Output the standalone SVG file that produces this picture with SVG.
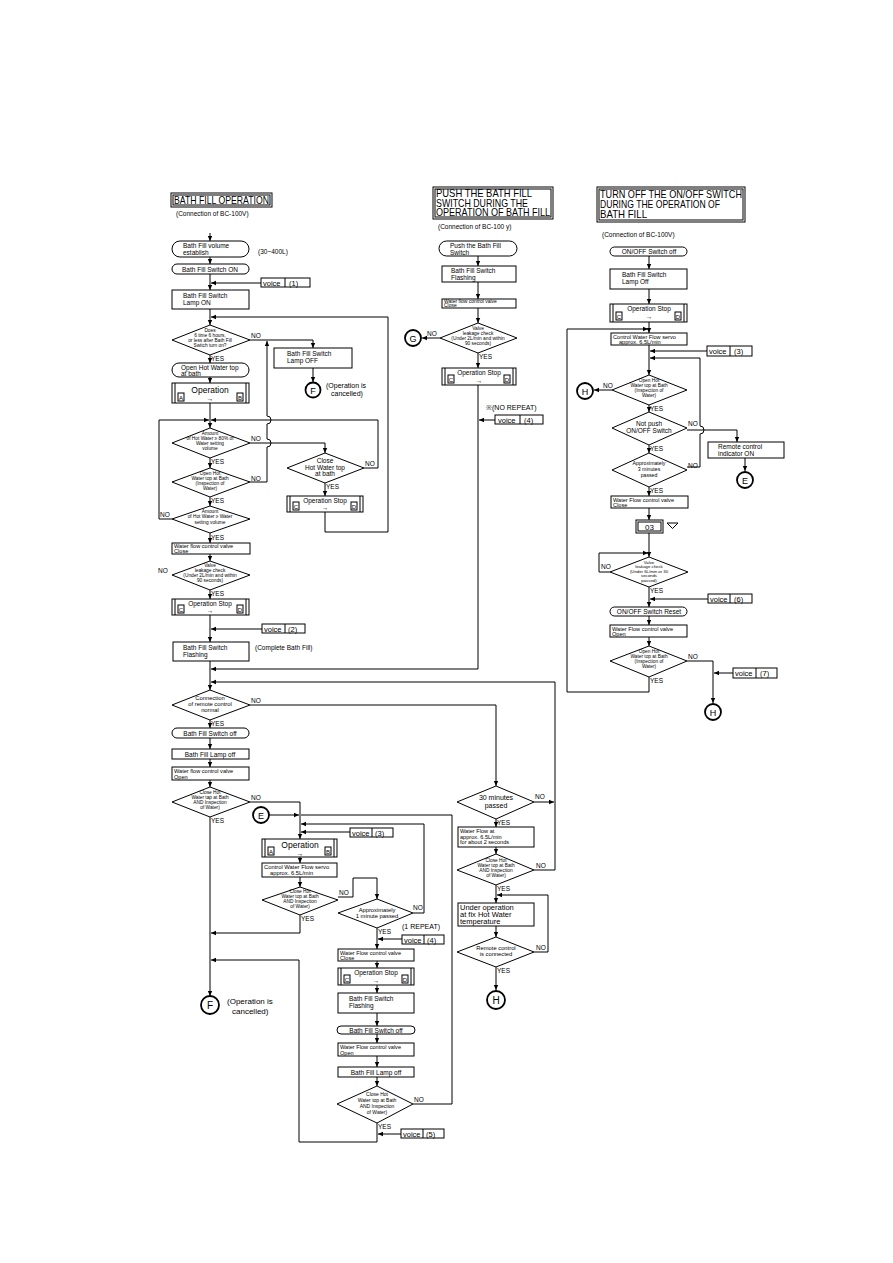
<svg xmlns="http://www.w3.org/2000/svg" width="893" height="1263" viewBox="0 0 893 1263">
<style>
.l{stroke:#000;stroke-width:1;fill:none}
.b{fill:#fff;stroke:#000;stroke-width:1}
.c{fill:#fff;stroke:#000;stroke-width:1.8}
text{font-family:"Liberation Sans",Arial,sans-serif;font-size:6.5px;fill:#000}
.m{text-anchor:middle}
.d{font-size:4.8px}
.v{font-size:7.5px}
.t{font-size:10.5px}
.lb{font-size:6.5px}
.w{font-size:5.6px}
</style>
<defs>
<marker id="a" markerWidth="6" markerHeight="6" refX="5" refY="3" orient="auto" markerUnits="userSpaceOnUse"><path d="M0,0.8 L5,3 L0,5.2z" fill="#000"/></marker>
</defs>
<rect width="893" height="1263" fill="#fff"/>

<g id="connectors" class="l" marker-end="url(#a)">
<path d="M210,233V241"/>
<path d="M210,257V264"/>
<path d="M210,274V290"/>
<path d="M261,283H211"/>
<path d="M210,309V325"/>
<path d="M325,512V532H388V317H211"/>
<path d="M250,340H313V348"/>
<path d="M313,368V382"/>
<path d="M210,355V363"/>
<path d="M210,377V383"/>
<path d="M210,403V428"/>
<path d="M172,519H159V420H209"/>
<path d="M364,468H378V420H211"/>
<path d="M250,443H325V453"/>
<path d="M250,482H267V447a4,4 0 0 0 0,-8V424a4,4 0 0 0 0,-8V341"/>
<path d="M210,458V468"/>
<path d="M210,497V506"/>
<path d="M325,483V496"/>
<path d="M210,533V543"/>
<path d="M210,554V561"/>
<path d="M210,590V599"/>
<path d="M210,615V642"/>
<path d="M262,629H211"/>
<path d="M210,661V690"/>
<path d="M478,385V669H211"/>
<path d="M555,870V682H211"/>
<path d="M210,720V728"/>
<path d="M210,738V749"/>
<path d="M210,759V767"/>
<path d="M210,780V787"/>
<path d="M210,817V996"/>
<path d="M250,802H300V839"/>
<path d="M269,815H299"/>
<path d="M413,1104H452V815H301" marker-end="none"/>
<path d="M413,913H424V824H301"/>
<path d="M350,832H301"/>
<path d="M300,857V863"/>
<path d="M300,877V887"/>
<path d="M338,897H353V878H377V899"/>
<path d="M300,915V933H211"/>
<path d="M377,928V949"/>
<path d="M402,939H378"/>
<path d="M377,961V968"/>
<path d="M377,985V993"/>
<path d="M377,1013V1026"/>
<path d="M377,1034V1043"/>
<path d="M377,1056V1067"/>
<path d="M377,1077V1086"/>
<path d="M377,1123V1142H299V960H211"/>
<path d="M401,1134H378"/>
<path d="M478,256V266"/>
<path d="M478,282V299"/>
<path d="M478,308V323"/>
<path d="M440,338H422"/>
<path d="M478,353V368"/>
<path d="M495,420H479"/>
<path d="M250,705H496V786"/>
<path d="M534,802H554"/>
<path d="M534,870H555" marker-end="none"/>
<path d="M496,819V827"/>
<path d="M496,847V854"/>
<path d="M496,885V903"/>
<path d="M534,952H548V895H497"/>
<path d="M496,926V937"/>
<path d="M496,967V990"/>
<path d="M649,256V269"/>
<path d="M649,289V304"/>
<path d="M649,322V333"/>
<path d="M649,677V692H567V329H648"/>
<path d="M707,351H650"/>
<path d="M649,345V375"/>
<path d="M687,467H700V434a4,4 0 0 0 0,-8V358H650"/>
<path d="M612,390H594"/>
<path d="M649,405V412"/>
<path d="M649,445V453"/>
<path d="M687,430H737V442"/>
<path d="M745,458V471"/>
<path d="M649,487V496"/>
<path d="M649,508V520"/>
<path d="M649,533V557"/>
<path d="M610,572H599V553H648"/>
<path d="M649,587V607"/>
<path d="M708,599H650"/>
<path d="M649,616V625"/>
<path d="M649,637V646"/>
<path d="M687,661H713V703"/>
<path d="M733,673H714"/>
</g>

<g id="title-left">
<rect class="b" x="171" y="193" width="101" height="14"/>
<rect class="l" x="173" y="195" width="97" height="10"/>
<text x="174" y="204" class="t" textLength="95" lengthAdjust="spacingAndGlyphs">BATH FILL OPERATION</text>
<text x="176" y="216">(Connection of BC-100V)</text>
</g>
<g id="l-volume">
<rect class="b" x="172" y="241" width="77" height="16" rx="8"/>
<text x="183" y="248">Bath Fill volume</text>
<text x="183" y="255">establish</text>
<text x="258" y="254">(30~400L)</text>
</g>
<g id="l-switch-on">
<rect class="b" x="172" y="264" width="77" height="10" rx="5"/>
<text x="210" y="271.5" class="m">Bath Fill Switch ON</text>
</g>
<g id="l-voice1">
<rect class="b" x="261" y="278" width="49" height="9"/>
<line class="l" x1="285" y1="278" x2="285" y2="287"/>
<text x="263" y="285.5" class="v">voice</text>
<text x="289" y="285.5" class="v">(1)</text>
</g>
<g id="l-lamp-on">
<rect class="b" x="172" y="290" width="77" height="19"/>
<text x="183" y="298">Bath Fill Switch</text>
<text x="183" y="305">Lamp ON</text>
</g>
<g id="l-d-6hours">
<polygon class="b" points="172,340 210,325 250,340 210,355"/>
<text x="210" y="332" class="m d">Does</text>
<text x="210" y="337" class="m d">6 time 6 hours,</text>
<text x="210" y="342" class="m d">or less after Bath Fill</text>
<text x="210" y="347" class="m d">Switch turn on?</text>
<text x="251" y="338" class="lb">NO</text>
<text x="211" y="361" class="lb">YES</text>
</g>
<g id="l-lamp-off">
<rect class="b" x="274" y="348" width="78" height="20"/>
<text x="287" y="356">Bath Fill Switch</text>
<text x="287" y="363">Lamp OFF</text>
</g>
<g id="l-F1">
<circle class="c" cx="313" cy="390" r="7.5"/>
<text x="313" y="393.5" class="m" style="font-size:9px">F</text>
<text x="326" y="388" style="font-size:7px">(Operation is</text>
<text x="331" y="396" style="font-size:7px">cancelled)</text>
</g>
<g id="l-open-hot">
<rect class="b" x="172" y="363" width="77" height="14" rx="7"/>
<text x="181" y="369.5">Open Hot Water top</text>
<text x="181" y="375.5">at bath</text>
</g>
<g id="l-op-ab">
<rect class="b" x="172" y="383" width="77" height="20"/>
<line class="l" x1="175" y1="383" x2="175" y2="403"/>
<line class="l" x1="246" y1="383" x2="246" y2="403"/>
<rect class="b" x="178" y="393" width="6" height="8"/>
<text x="181" y="399.5" class="m" style="font-size:6px">A</text>
<rect class="b" x="237" y="393" width="6" height="8"/>
<text x="240" y="399.5" class="m" style="font-size:6px">B</text>
<text x="210" y="393" class="m" style="font-size:8.5px">Operation</text>
<text x="210" y="401" class="m" style="font-size:7px">→</text>
</g>
<g id="l-d-amount80">
<polygon class="b" points="172,443 210,428 250,443 210,458"/>
<text x="210" y="435" class="m d">Amount</text>
<text x="210" y="440" class="m d">of Hot Water ≥ 80% of</text>
<text x="210" y="445" class="m d">Water setting</text>
<text x="210" y="450" class="m d">volume</text>
<text x="251" y="441" class="lb">NO</text>
<text x="211" y="464" class="lb">YES</text>
</g>
<g id="l-d-close">
<polygon class="b" points="287,468 325,453 364,468 325,483"/>
<text x="325" y="463" class="m">Close</text>
<text x="325" y="469.5" class="m">Hot Water top</text>
<text x="325" y="476" class="m">at bath</text>
<text x="365" y="466" class="lb">NO</text>
<text x="326" y="489" class="lb">YES</text>
</g>
<g id="l-stop-close">
<rect class="b" x="287" y="496" width="76" height="16"/>
<line class="l" x1="290" y1="496" x2="290" y2="512"/>
<line class="l" x1="360" y1="496" x2="360" y2="512"/>
<rect class="b" x="293" y="502" width="6" height="8"/>
<text x="296" y="508.5" class="m" style="font-size:6px">C</text>
<rect class="b" x="351" y="502" width="6" height="8"/>
<text x="354" y="508.5" class="m" style="font-size:6px">D</text>
<text x="325" y="503" class="m">Operation Stop</text>
<text x="325" y="510" class="m">→</text>
</g>
<g id="l-d-openhot">
<polygon class="b" points="172,482 210,468 250,482 210,497"/>
<text x="210" y="475" class="m d">Open Hot</text>
<text x="210" y="480" class="m d">Water top at Bath</text>
<text x="210" y="485" class="m d">(Inspection of</text>
<text x="210" y="490" class="m d">Water)</text>
<text x="251" y="481" class="lb">NO</text>
<text x="211" y="503" class="lb">YES</text>
</g>
<g id="l-d-amount">
<polygon class="b" points="172,519 210,506 250,519 210,533"/>
<text x="210" y="513" class="m d">Amount</text>
<text x="210" y="518" class="m d">of Hot Water ≥ Water</text>
<text x="210" y="523.5" class="m d">setting volume</text>
<text x="160" y="517" class="lb">NO</text>
<text x="211" y="540" class="lb">YES</text>
</g>
<g id="l-valve-close">
<rect class="b" x="172" y="543" width="78" height="11"/>
<text x="174" y="548" class="w">Water flow control valve</text>
<text x="174" y="553" class="w">Close</text>
</g>
<g id="l-d-leak">
<polygon class="b" points="172,575 210,561 250,575 210,590"/>
<text x="210" y="567" class="m d">Valve</text>
<text x="210" y="572" class="m d">leakage check</text>
<text x="210" y="577" class="m d">(Under 2L/min and within</text>
<text x="210" y="582" class="m d">90 seconds)</text>
<text x="158" y="573" class="lb">NO</text>
<text x="211" y="596" class="lb">YES</text>
</g>
<g id="l-stop">
<rect class="b" x="172" y="599" width="77" height="16"/>
<line class="l" x1="175" y1="599" x2="175" y2="615"/>
<line class="l" x1="246" y1="599" x2="246" y2="615"/>
<rect class="b" x="178" y="605" width="6" height="8"/>
<text x="181" y="611.5" class="m" style="font-size:6px">C</text>
<rect class="b" x="237" y="605" width="6" height="8"/>
<text x="240" y="611.5" class="m" style="font-size:6px">D</text>
<text x="210" y="606" class="m">Operation Stop</text>
<text x="210" y="613" class="m">→</text>
</g>
<g id="l-voice2">
<rect class="b" x="262" y="624" width="43" height="9"/>
<line class="l" x1="285" y1="624" x2="285" y2="633"/>
<text x="264" y="631.5" class="v">voice</text>
<text x="288" y="631.5" class="v">(2)</text>
</g>
<g id="l-flashing">
<rect class="b" x="173" y="642" width="76" height="19"/>
<text x="183" y="649.5">Bath Fill Switch</text>
<text x="183" y="656.5">Flashing</text>
<text x="255" y="650">(Complete Bath Fill)</text>
</g>
<g id="l-d-connection">
<polygon class="b" points="172,705 210,690 250,705 210,720"/>
<text x="210" y="700" class="m" style="font-size:5.8px">Connection</text>
<text x="210" y="706" class="m" style="font-size:5.8px">of remote control</text>
<text x="210" y="712" class="m" style="font-size:5.8px">normal</text>
<text x="251" y="703" class="lb">NO</text>
<text x="211" y="726" class="lb">YES</text>
</g>
<g id="l-switch-off">
<rect class="b" x="172" y="728" width="77" height="10" rx="5"/>
<text x="210" y="735.5" class="m">Bath Fill Switch off</text>
</g>
<g id="l-lamp-off2">
<rect class="b" x="172" y="749" width="77" height="10"/>
<text x="210" y="756.5" class="m">Bath Fill Lamp off</text>
</g>
<g id="l-valve-open">
<rect class="b" x="172" y="767" width="77" height="13"/>
<text x="174" y="773" class="w">Water flow control valve</text>
<text x="174" y="778.5" class="w">Open</text>
</g>
<g id="l-d-closehot">
<polygon class="b" points="172,802 210,787 250,802 210,817"/>
<text x="210" y="794" class="m d">Close Hot</text>
<text x="210" y="799" class="m d">Water tap at Bath</text>
<text x="210" y="804" class="m d">AND Inspection</text>
<text x="210" y="809" class="m d">of Water)</text>
<text x="251" y="800" class="lb">NO</text>
<text x="211" y="823" class="lb">YES</text>
</g>
<g id="l-E">
<circle class="c" cx="261" cy="815" r="8"/>
<text x="261" y="818.5" class="m" style="font-size:9px">E</text>
</g>
<g id="l-voice3">
<rect class="b" x="350" y="828" width="43" height="9"/>
<line class="l" x1="372" y1="828" x2="372" y2="837"/>
<text x="352" y="835.5" class="v">voice</text>
<text x="375" y="835.5" class="v">(3)</text>
</g>
<g id="l-op-ab2">
<rect class="b" x="262" y="839" width="75" height="18"/>
<line class="l" x1="265" y1="839" x2="265" y2="857"/>
<line class="l" x1="334" y1="839" x2="334" y2="857"/>
<rect class="b" x="268" y="847" width="6" height="8"/>
<text x="271" y="853.5" class="m" style="font-size:6px">A</text>
<rect class="b" x="325" y="847" width="6" height="8"/>
<text x="328" y="853.5" class="m" style="font-size:6px">B</text>
<text x="300" y="848" class="m" style="font-size:8.5px">Operation</text>
<text x="300" y="855.5" class="m" style="font-size:7px">→</text>
</g>
<g id="l-servo">
<rect class="b" x="262" y="863" width="75" height="14"/>
<text x="264" y="869" style="font-size:5.8px">Control Water Flow servo</text>
<text x="270" y="875" style="font-size:5.8px">approx. 6.5L/min</text>
</g>
<g id="l-d-closehot2">
<polygon class="b" points="262,900 300,887 338,900 300,915"/>
<text x="300" y="893" class="m d">Close Hot</text>
<text x="300" y="898" class="m d">Water top at Bath</text>
<text x="300" y="903" class="m d">AND Inspection</text>
<text x="300" y="908" class="m d">of Water)</text>
<text x="339" y="895" class="lb">NO</text>
<text x="301" y="921" class="lb">YES</text>
</g>
<g id="l-d-approx1">
<polygon class="b" points="338,913 377,899 413,913 377,928"/>
<text x="377" y="911.5" class="m" style="font-size:5.8px">Approximately</text>
<text x="377" y="917.5" class="m" style="font-size:5.8px">1 minute passed</text>
<text x="413" y="910" class="lb">NO</text>
<text x="378" y="934" class="lb">YES</text>
</g>
<g id="l-voice4">
<text x="402" y="929" style="font-size:7px">(1 REPEAT)</text>
<rect class="b" x="402" y="935" width="42" height="9"/>
<line class="l" x1="424" y1="935" x2="424" y2="944"/>
<text x="404" y="942.5" class="v">voice</text>
<text x="427" y="942.5" class="v">(4)</text>
</g>
<g id="l-valve-close2">
<rect class="b" x="338" y="949" width="76" height="12"/>
<text x="340" y="954.5" class="w">Water Flow control valve</text>
<text x="340" y="959.5" class="w">Close</text>
</g>
<g id="l-stop2">
<rect class="b" x="338" y="968" width="76" height="17"/>
<line class="l" x1="341" y1="968" x2="341" y2="985"/>
<line class="l" x1="411" y1="968" x2="411" y2="985"/>
<rect class="b" x="344" y="975" width="6" height="8"/>
<text x="347" y="981.5" class="m" style="font-size:6px">C</text>
<rect class="b" x="402" y="975" width="6" height="8"/>
<text x="405" y="981.5" class="m" style="font-size:6px">D</text>
<text x="376" y="975" class="m">Operation Stop</text>
<text x="376" y="982.5" class="m">→</text>
</g>
<g id="l-flashing2">
<rect class="b" x="338" y="993" width="76" height="20"/>
<text x="349" y="1001">Bath Fill Switch</text>
<text x="349" y="1008">Flashing</text>
</g>
<g id="l-switch-off2">
<rect class="b" x="337" y="1026" width="78" height="8" rx="4"/>
<text x="376" y="1032.5" class="m">Bath Fill Switch off</text>
</g>
<g id="l-valve-open2">
<rect class="b" x="338" y="1043" width="76" height="13"/>
<text x="340" y="1049" class="w">Water Flow control valve</text>
<text x="340" y="1054.5" class="w">Open</text>
</g>
<g id="l-lamp-off3">
<rect class="b" x="338" y="1067" width="76" height="10"/>
<text x="376" y="1074.5" class="m">Bath Fill Lamp off</text>
</g>
<g id="l-d-closehot3">
<polygon class="b" points="337,1104 377,1086 413,1104 377,1123"/>
<text x="377" y="1096" class="m" style="font-size:5px">Close Hot</text>
<text x="377" y="1102" class="m" style="font-size:5px">Water top at Bath</text>
<text x="377" y="1108" class="m" style="font-size:5px">AND Inspection</text>
<text x="377" y="1114" class="m" style="font-size:5px">of Water)</text>
<text x="414" y="1102" class="lb">NO</text>
<text x="378" y="1129" class="lb">YES</text>
</g>
<g id="l-voice5">
<rect class="b" x="401" y="1129" width="43" height="9"/>
<line class="l" x1="423" y1="1129" x2="423" y2="1138"/>
<text x="403" y="1136.5" class="v">voice</text>
<text x="426" y="1136.5" class="v">(5)</text>
</g>
<g id="l-F2">
<circle class="c" cx="210" cy="1005" r="9"/>
<text x="210" y="1009" class="m" style="font-size:10px">F</text>
<text x="227" y="1004" style="font-size:8px">(Operation is</text>
<text x="232" y="1014" style="font-size:8px">cancelled)</text>
</g>

<g id="title-mid">
<rect class="b" x="433" y="187" width="120" height="32"/>
<rect class="l" x="435" y="189" width="116" height="28"/>
<text x="436" y="197" class="t" textLength="96" lengthAdjust="spacingAndGlyphs">PUSH THE BATH FILL</text>
<text x="436" y="206.5" class="t" textLength="92" lengthAdjust="spacingAndGlyphs">SWITCH DURING THE</text>
<text x="436" y="216" class="t" textLength="114" lengthAdjust="spacingAndGlyphs">OPERATION OF BATH FILL</text>
<text x="438" y="229">(Connection of BC-100 y)</text>
</g>
<g id="m-push">
<rect class="b" x="439" y="241" width="78" height="15" rx="7.5"/>
<text x="450" y="248">Push the Bath Fill</text>
<text x="450" y="254.5">Switch</text>
</g>
<g id="m-flashing">
<rect class="b" x="442" y="266" width="74" height="16"/>
<text x="451" y="273">Bath Fill Switch</text>
<text x="451" y="279.5">Flashing</text>
</g>
<g id="m-valve-close">
<rect class="b" x="442" y="299" width="74" height="9"/>
<text x="444" y="303.3" style="font-size:5px">Water flow control valve</text>
<text x="444" y="307.3" style="font-size:5px">Close</text>
</g>
<g id="m-d-leak">
<polygon class="b" points="440,338 478,323 517,338 478,353"/>
<text x="478" y="330" class="m d">Valve</text>
<text x="478" y="335" class="m d">leakage check</text>
<text x="478" y="340" class="m d">(Under 2L/min and within</text>
<text x="478" y="345" class="m d">90 seconds)</text>
<text x="427" y="336" class="lb">NO</text>
<text x="479" y="359" class="lb">YES</text>
</g>
<g id="m-G">
<circle class="c" cx="413" cy="338" r="8"/>
<text x="413" y="341.5" class="m" style="font-size:9px">G</text>
</g>
<g id="m-stop">
<rect class="b" x="442" y="368" width="74" height="17"/>
<line class="l" x1="445" y1="368" x2="445" y2="385"/>
<line class="l" x1="513" y1="368" x2="513" y2="385"/>
<rect class="b" x="448" y="375" width="6" height="8"/>
<text x="451" y="381.5" class="m" style="font-size:6px">C</text>
<rect class="b" x="504" y="375" width="6" height="8"/>
<text x="507" y="381.5" class="m" style="font-size:6px">D</text>
<text x="479" y="375" class="m">Operation Stop</text>
<text x="479" y="382.5" class="m">→</text>
</g>
<g id="m-voice4">
<text x="486" y="410" style="font-size:7px">※(NO REPEAT)</text>
<rect class="b" x="495" y="415" width="48" height="9"/>
<line class="l" x1="520" y1="415" x2="520" y2="424"/>
<text x="498" y="422.5" class="v">voice</text>
<text x="524" y="422.5" class="v">(4)</text>
</g>
<g id="m-d-30min">
<polygon class="b" points="457,802 496,786 534,802 496,819"/>
<text x="496" y="799.5" class="m" style="font-size:7px">30 minutes</text>
<text x="496" y="808" class="m" style="font-size:7px">passed</text>
<text x="535" y="799" class="lb">NO</text>
<text x="497" y="825" class="lb">YES</text>
</g>
<g id="m-flow">
<rect class="b" x="458" y="827" width="76" height="20"/>
<text x="460" y="833" style="font-size:5.6px">Water Flow at</text>
<text x="460" y="838.5" style="font-size:5.6px">approx. 6.5L/min</text>
<text x="460" y="844" style="font-size:5.6px">for about 2 seconds</text>
</g>
<g id="m-d-closehot">
<polygon class="b" points="457,870 496,854 534,870 496,885"/>
<text x="496" y="862" class="m d">Close Hot</text>
<text x="496" y="867" class="m d">Water top at Bath</text>
<text x="496" y="872" class="m d">AND Inspection</text>
<text x="496" y="877" class="m d">of Water)</text>
<text x="536" y="868" class="lb">NO</text>
<text x="497" y="891" class="lb">YES</text>
</g>
<g id="m-under-op">
<rect class="b" x="458" y="903" width="76" height="23"/>
<text x="460" y="910" style="font-size:7.5px">Under operation</text>
<text x="460" y="917" style="font-size:7.5px">at fix Hot Water</text>
<text x="460" y="924" style="font-size:7.5px">temperature</text>
</g>
<g id="m-d-remote">
<polygon class="b" points="457,952 496,937 534,952 496,967"/>
<text x="496" y="950" class="m" style="font-size:5.8px">Remote control</text>
<text x="496" y="956" class="m" style="font-size:5.8px">is connected</text>
<text x="536" y="950" class="lb">NO</text>
<text x="497" y="973" class="lb">YES</text>
</g>
<g id="m-H">
<circle class="c" cx="496" cy="1000" r="9"/>
<text x="496" y="1004" class="m" style="font-size:10px">H</text>
</g>

<g id="title-right">
<rect class="b" x="597" y="187" width="148" height="35"/>
<rect class="l" x="599" y="189" width="144" height="31"/>
<text x="600" y="198" class="t" textLength="142" lengthAdjust="spacingAndGlyphs">TURN OFF THE ON/OFF SWITCH</text>
<text x="600" y="208" class="t" textLength="120" lengthAdjust="spacingAndGlyphs">DURING THE OPERATION OF</text>
<text x="600" y="217.5" class="t" textLength="47" lengthAdjust="spacingAndGlyphs">BATH FILL</text>
<text x="602" y="237">(Connection of BC-100V)</text>
</g>
<g id="r-onoff-off">
<rect class="b" x="610" y="247" width="77" height="9" rx="4.5"/>
<text x="649" y="254" class="m lb">ON/OFF Switch off</text>
</g>
<g id="r-lamp-off">
<rect class="b" x="610" y="269" width="77" height="20"/>
<text x="622" y="277">Bath Fill Switch</text>
<text x="622" y="284">Lamp Off</text>
</g>
<g id="r-stop">
<rect class="b" x="610" y="304" width="77" height="18"/>
<line class="l" x1="613" y1="304" x2="613" y2="322"/>
<line class="l" x1="684" y1="304" x2="684" y2="322"/>
<rect class="b" x="616" y="312" width="6" height="8"/>
<text x="619" y="318.5" class="m" style="font-size:6px">C</text>
<rect class="b" x="675" y="312" width="6" height="8"/>
<text x="678" y="318.5" class="m" style="font-size:6px">D</text>
<text x="649" y="311" class="m">Operation Stop</text>
<text x="649" y="318.5" class="m">→</text>
</g>
<g id="r-servo">
<rect class="b" x="611" y="333" width="76" height="12"/>
<text x="613" y="338.5" class="w">Control Water Flow servo</text>
<text x="619" y="343.5" class="w">approx. 6.5L/min</text>
</g>
<g id="r-voice3">
<rect class="b" x="707" y="346" width="45" height="10"/>
<line class="l" x1="730" y1="346" x2="730" y2="356"/>
<text x="709" y="354" class="v">voice</text>
<text x="734" y="354" class="v">(3)</text>
</g>
<g id="r-d-openhot">
<polygon class="b" points="612,390 649,375 687,390 649,405"/>
<text x="649" y="382" class="m d">Open Hot</text>
<text x="649" y="387" class="m d">Water top at Bath</text>
<text x="649" y="392" class="m d">(Inspection of</text>
<text x="649" y="397" class="m d">Water)</text>
<text x="603" y="388" class="lb">NO</text>
<text x="650" y="411" class="lb">YES</text>
</g>
<g id="r-H1">
<circle class="c" cx="585" cy="391" r="8"/>
<text x="585" y="394.5" class="m" style="font-size:9px">H</text>
</g>
<g id="r-d-notpush">
<polygon class="b" points="612,428 649,412 687,428 649,445"/>
<text x="649" y="426" class="m">Not push</text>
<text x="649" y="433" class="m">ON/OFF Switch</text>
<text x="688" y="426" class="lb">NO</text>
<text x="650" y="451" class="lb">YES</text>
</g>
<g id="r-remote-on">
<rect class="b" x="708" y="442" width="76" height="16"/>
<text x="718" y="449" class="lb">Remote control</text>
<text x="718" y="456" class="lb">indicator ON</text>
</g>
<g id="r-E">
<circle class="c" cx="745" cy="480" r="8"/>
<text x="745" y="483.5" class="m" style="font-size:9px">E</text>
</g>
<g id="r-d-approx3">
<polygon class="b" points="612,470 649,453 687,470 649,487"/>
<text x="649" y="464.5" class="m" style="font-size:5.2px">Approximately</text>
<text x="649" y="470.5" class="m" style="font-size:5.2px">3 minutes</text>
<text x="649" y="476.5" class="m" style="font-size:5.2px">passed</text>
<text x="688" y="468" class="lb">NO</text>
<text x="650" y="493" class="lb">YES</text>
</g>
<g id="r-valve-close">
<rect class="b" x="611" y="496" width="77" height="12"/>
<text x="613" y="501.5" class="w">Water Flow control valve</text>
<text x="613" y="506.5" class="w">Close</text>
</g>
<g id="r-03">
<rect class="b" x="636" y="520" width="27" height="13"/>
<rect class="l" x="638" y="522" width="23" height="9"/>
<text x="649.5" y="530" class="m" style="font-size:8px">03</text>
<polygon class="l" points="667,523 678,523 672.5,528.5"/>
</g>
<g id="r-d-leak">
<polygon class="b" points="610,572 649,557 688,572 649,587"/>
<text x="649" y="563.5" class="m" style="font-size:4.3px">Valve</text>
<text x="649" y="568" class="m" style="font-size:4.3px">leakage check</text>
<text x="649" y="572.5" class="m" style="font-size:4.3px">(Under 6L/min or 30</text>
<text x="649" y="577" class="m" style="font-size:4.3px">seconds</text>
<text x="649" y="581.5" class="m" style="font-size:4.3px">passed)</text>
<text x="601" y="569" class="lb">NO</text>
<text x="650" y="593" class="lb">YES</text>
</g>
<g id="r-voice6">
<rect class="b" x="708" y="594" width="44" height="9"/>
<line class="l" x1="730" y1="594" x2="730" y2="603"/>
<text x="710" y="601.5" class="v">voice</text>
<text x="734" y="601.5" class="v">(6)</text>
</g>
<g id="r-reset">
<rect class="b" x="610" y="607" width="77" height="9" rx="4.5"/>
<text x="649" y="614" class="m lb">ON/OFF Switch Reset</text>
</g>
<g id="r-valve-open">
<rect class="b" x="610" y="625" width="77" height="12"/>
<text x="612" y="630.5" class="w">Water Flow control valve</text>
<text x="612" y="635.5" class="w">Open</text>
</g>
<g id="r-d-openhot2">
<polygon class="b" points="610,661 649,646 687,661 649,677"/>
<text x="649" y="653" class="m d">Open Hot</text>
<text x="649" y="658" class="m d">Water top at Bath</text>
<text x="649" y="663" class="m d">(Inspection of</text>
<text x="649" y="668" class="m d">Water)</text>
<text x="688" y="659" class="lb">NO</text>
<text x="650" y="683" class="lb">YES</text>
</g>
<g id="r-voice7">
<rect class="b" x="733" y="668" width="44" height="10"/>
<line class="l" x1="756" y1="668" x2="756" y2="678"/>
<text x="735" y="676" class="v">voice</text>
<text x="760" y="676" class="v">(7)</text>
</g>
<g id="r-H2">
<circle class="c" cx="713" cy="712" r="8"/>
<text x="713" y="715.5" class="m" style="font-size:9px">H</text>
</g>
</svg>
